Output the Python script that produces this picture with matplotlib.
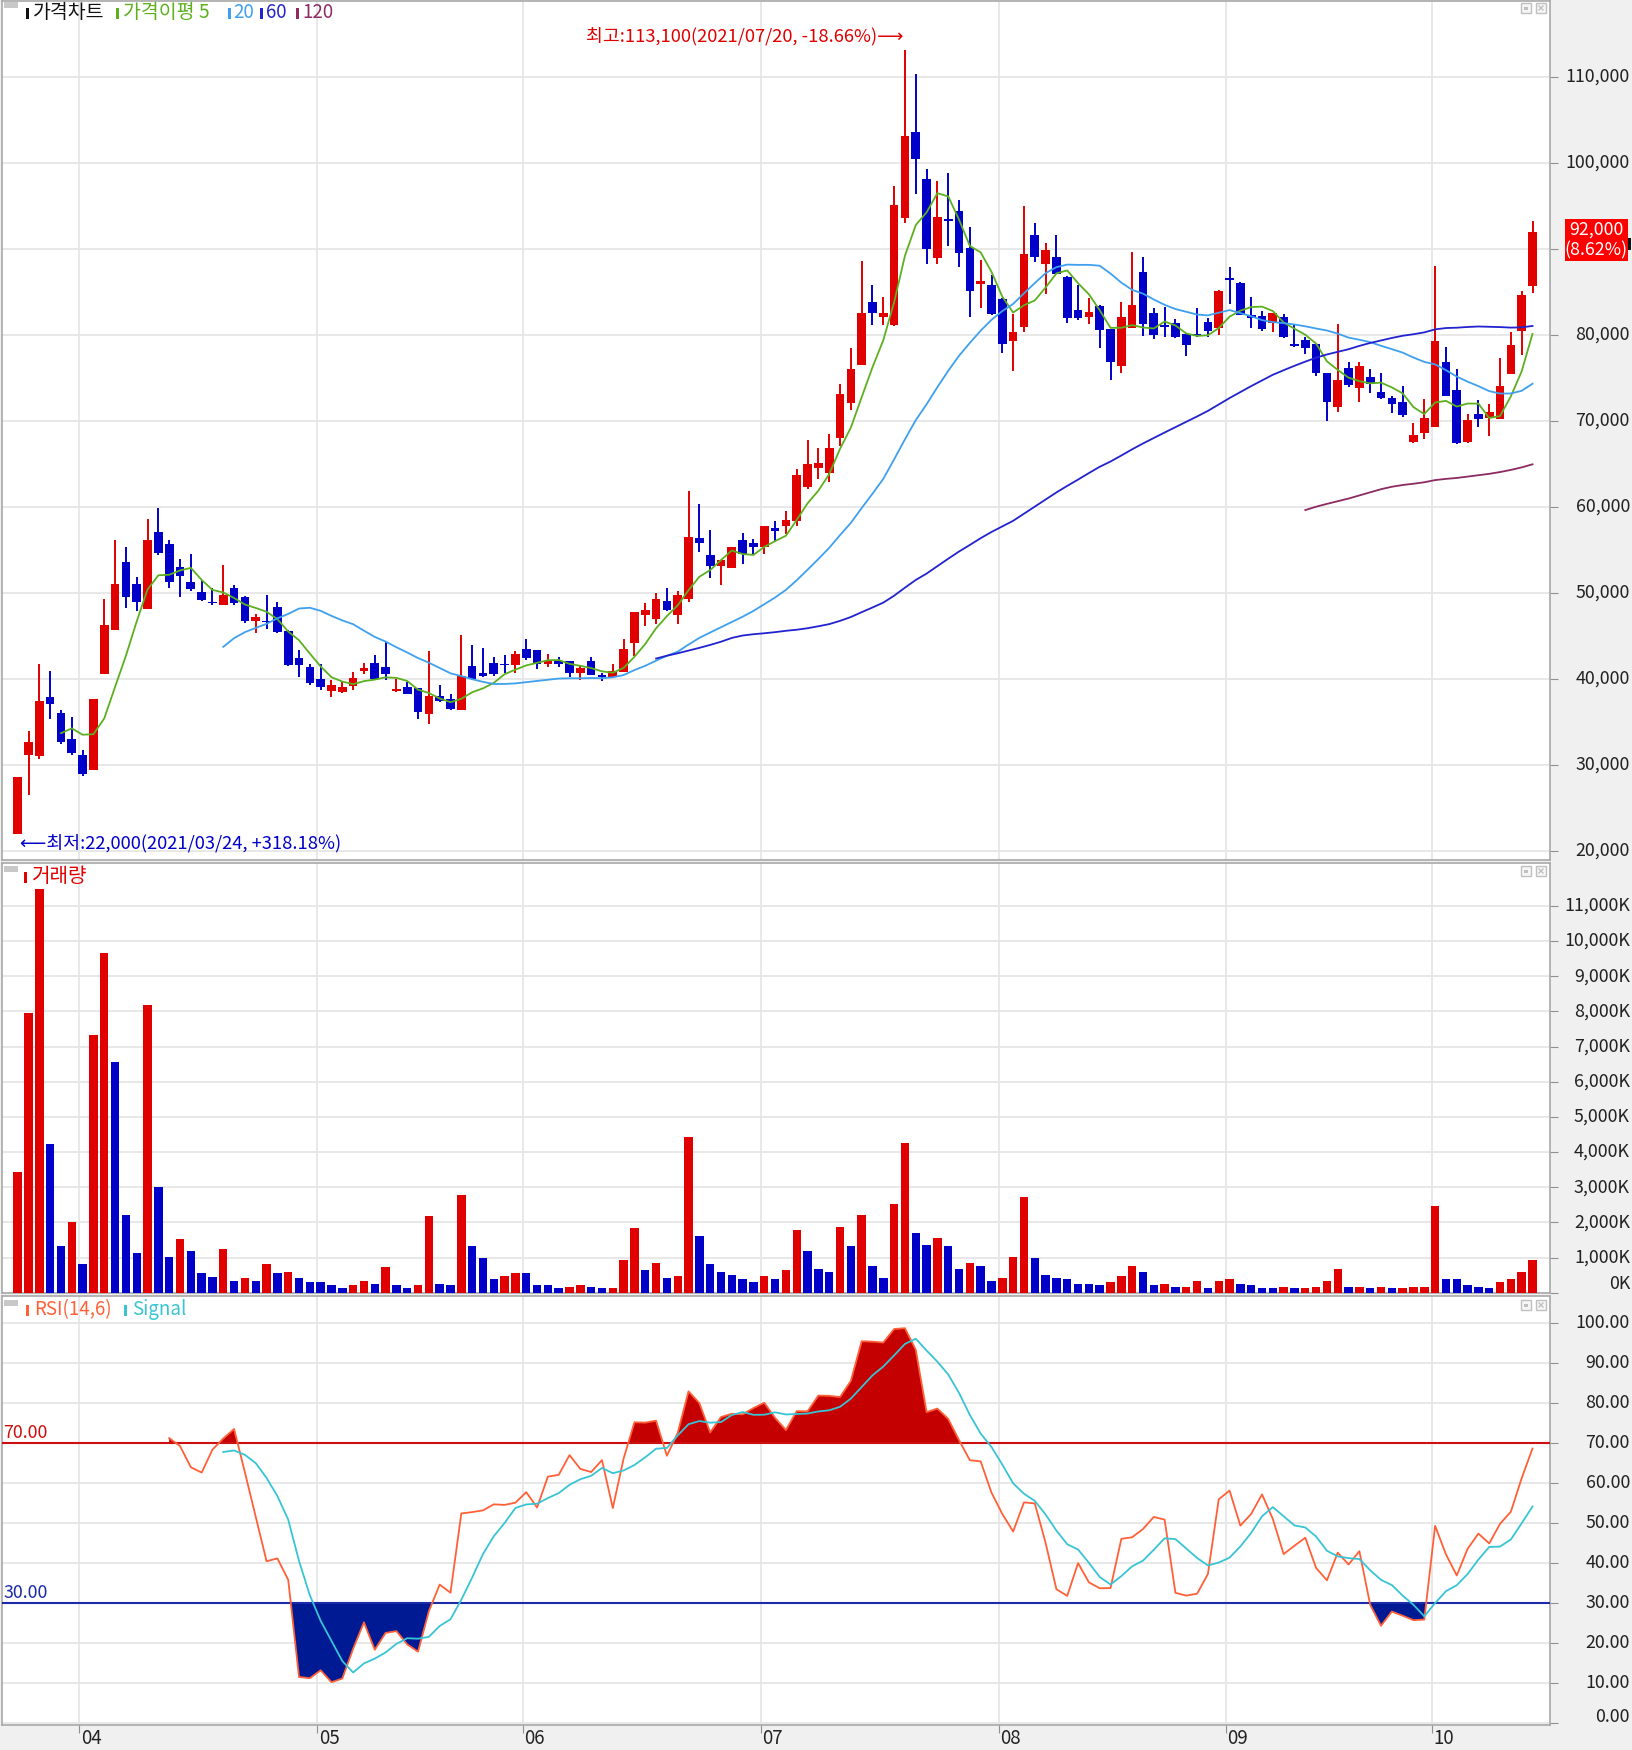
import numpy as np
import pandas as pd
import matplotlib
matplotlib.use('Agg')
import matplotlib.pyplot as plt
from matplotlib.patches import Rectangle
from matplotlib.transforms import blended_transform_factory as blend

plt.rcParams['font.family'] = ['Noto Sans CJK KR', 'DejaVu Sans']
NUM_FONT = ['Liberation Sans Narrow', 'Noto Sans CJK KR', 'DejaVu Sans']

# ---------------- data ----------------
holidays = ['2021-05-05', '2021-05-19', '2021-08-16', '2021-09-20', '2021-09-21',
            '2021-09-22', '2021-10-04', '2021-10-11']
dates = pd.bdate_range('2021-03-24', '2021-10-18', freq='C', holidays=holidays)

opens = [22000, 31200, 31000, 37900, 36000, 33000, 31200, 29400, 40600, 45700,
         53600, 51000, 48100, 57100, 55700, 53000, 51300, 50100, 48950, 48600,
         50600, 49500, 46750, 46800, 48400, 45600, 42400, 41400, 40000, 38600,
         38450, 39150, 40900, 41900, 41350, 38650, 39050, 38900, 35950, 38000,
         37700, 36350, 41500, 40650, 41850, 41750, 41600, 43450, 43350, 41800,
         42050, 42100, 40700, 42150, 40500, 40200, 40850, 44150, 47450, 46950,
         49100, 47450, 49350, 56400, 54450, 53150, 52850, 56200, 55800, 55300,
         57500, 57750, 58400, 62350, 64550, 64000, 68050, 72150, 76550, 83850,
         82050, 81150, 93600, 103650, 98100, 89000, 93500, 94450, 90150, 85950,
         85800, 84200, 79350, 80900, 91650, 88250, 89050, 86800, 82950, 82150,
         83400, 80700, 76450, 80800, 87300, 82550, 81200, 81350, 80100, 80100,
         81550, 80800, 86600, 86100, 82350, 82250, 81450, 82050, 78900, 79400,
         78900, 75550, 71600, 76150, 73800, 75150, 73400, 72650, 72250, 67600,
         68650, 69350, 76900, 73600, 67550, 70800, 70300, 70250, 75450, 80450,
         85700]
highs = [28600, 33900, 41800, 40900, 36400, 35600, 31800, 37700, 49300, 56200,
         55300, 51900, 58600, 59900, 56200, 54000, 54500, 51500, 50600, 53300,
         50900, 49650, 47500, 49800, 48900, 45700, 43400, 41700, 41750, 39900,
         39750, 40800, 41900, 42800, 44300, 40000, 39650, 38900, 43300, 39250,
         38300, 45100, 43900, 43650, 42600, 42800, 43300, 44700, 43400, 42850,
         42500, 42150, 41550, 42500, 40700, 41800, 44700, 47750, 48800, 50000,
         50550, 50250, 61850, 60300, 57300, 53850, 55400, 56950, 56250, 57800,
         58400, 59550, 64400, 67750, 66850, 68450, 74300, 78450, 88550, 85800,
         84450, 97350, 113100, 110300, 99350, 97950, 98800, 95700, 92550, 88750,
         86950, 84250, 82450, 95050, 93000, 90650, 91650, 86850, 85850, 84300,
         83450, 80750, 83800, 89600, 89050, 83150, 83300, 81850, 80150, 83150,
         81950, 85250, 87850, 86150, 84400, 82750, 82600, 82450, 81300, 79750,
         78950, 75600, 81300, 76900, 76900, 76000, 75550, 72850, 74100, 69800,
         72550, 88050, 78650, 76000, 70800, 72450, 72000, 77300, 80400, 85150,
         93300]
lows = [22000, 26500, 30700, 35400, 32400, 31200, 28700, 29400, 40600, 45700,
        48300, 47900, 48100, 54400, 50600, 49500, 50200, 49100, 48550, 48600,
        48600, 46500, 45300, 45800, 45400, 41500, 40200, 39300, 38750, 37900,
        38400, 38750, 40550, 39900, 39850, 38450, 38250, 35300, 34750, 37300,
        36350, 36350, 39900, 40200, 40350, 40700, 40700, 42250, 41150, 41450,
        41350, 40200, 39900, 40450, 39750, 40200, 40850, 42700, 46200, 46400,
        47950, 46400, 48950, 54800, 51750, 50900, 52850, 53350, 54500, 54500,
        56050, 56850, 57750, 62050, 63300, 62850, 67100, 71300, 76550, 81150,
        81150, 81050, 93000, 96400, 88200, 88200, 90300, 87900, 82050, 83100,
        82350, 77900, 75850, 80300, 88450, 84750, 87100, 81400, 81800, 81300,
        78500, 74800, 75550, 80800, 79850, 79550, 79750, 79700, 77600, 79750,
        79750, 80000, 83550, 82300, 80800, 80450, 80300, 79700, 78650, 77800,
        75250, 70050, 71050, 74000, 72250, 73300, 72550, 70900, 70500, 67400,
        67900, 69350, 72900, 67350, 67400, 69350, 68250, 70250, 75450, 77700,
        84850]
closes = [28600, 32700, 37400, 37100, 32700, 31400, 29000, 37700, 46300, 51000,
          49500, 49000, 56200, 54600, 51300, 52000, 50500, 49200, 48800, 49800,
          48800, 46700, 47200, 46600, 45500, 41600, 41600, 39500, 39100, 39250,
          39050, 40100, 41250, 40000, 40550, 38750, 38300, 36200, 38050, 37400,
          36550, 40300, 40000, 40300, 40600, 41600, 42950, 42450, 41800, 42100,
          41750, 40700, 41300, 40500, 40200, 40950, 43500, 47750, 48000, 49300,
          48000, 49800, 56550, 55800, 53150, 53850, 55350, 54500, 55300, 57800,
          57200, 58500, 63700, 64950, 65150, 66850, 73150, 76050, 82600, 82600,
          82600, 95150, 103100, 100450, 90000, 93750, 93300, 89550, 85150, 86300,
          82400, 78900, 80300, 89400, 89100, 89900, 87150, 82000, 81950, 82700,
          80600, 76900, 82050, 83500, 81300, 80050, 80950, 79750, 78850, 79850,
          80450, 85100, 86400, 82350, 81950, 80700, 82550, 79750, 78700, 78450,
          75550, 72250, 74750, 74200, 76400, 74300, 72650, 72000, 70700, 68400,
          70300, 79350, 72950, 67400, 70150, 70250, 71000, 74100, 78850, 84700,
          92000]
vol_k = [3446, 7967, 11474, 4223, 1322, 2005, 810, 7332, 9673, 6564,
         2213, 1142, 8185, 3019, 1019, 1531, 1190, 555, 460, 1237,
         336, 431, 330, 810, 555, 592, 431, 299, 295, 213,
         128, 213, 336, 251, 725, 213, 128, 213, 2175, 251,
         213, 2773, 1322, 981, 384, 469, 555, 550, 213, 210,
         128, 166, 213, 166, 128, 140, 934, 1834, 640, 848,
         422, 469, 4431, 1616, 810, 592, 507, 384, 299, 469,
         384, 640, 1787, 1190, 678, 592, 1872, 1322, 2213, 763,
         422, 2517, 4261, 1701, 1360, 1569, 1322, 678, 848, 763,
         336, 422, 1019, 2725, 981, 507, 422, 384, 251, 245,
         213, 299, 469, 763, 592, 213, 251, 166, 175, 336,
         128, 336, 384, 251, 213, 128, 125, 166, 128, 135,
         166, 336, 678, 166, 170, 128, 166, 128, 135, 166,
         170, 2469, 384, 380, 213, 166, 128, 299, 384, 592,
         934]

price_ticks = list(range(20000, 110001, 10000))
vol_ticks = list(range(0, 11001, 1000))
rsi_ticks = list(range(0, 101, 10))
ma_windows = [5, 20, 60, 120]

# ---------------- derived ----------------
O = np.array(opens, float); Hh = np.array(highs, float)
L = np.array(lows, float); C = np.array(closes, float)
V = np.array(vol_k, float)
n = len(C)
x = np.arange(n)
cs = pd.Series(C)
mas = {w: cs.rolling(w).mean() for w in ma_windows}
d = cs.diff()
gain = d.clip(lower=0).rolling(14).mean()
loss = (-d.clip(upper=0)).rolling(14).mean()
rsi = 100 * gain / (gain + loss)
signal = rsi.rolling(6).mean()

RED = '#e00000'
BLUE = '#0000c8'
MA_COL = {5: '#5cb01e', 20: '#3ea0ee', 60: '#2222d0', 120: '#8c2a62'}
GRID = '#e6e6e6'
SPINE = '#a8a8a8'
NUM_FS = 12.8

W, H = 1632, 1750
fig = plt.figure(figsize=(W / 100, H / 100), dpi=100, facecolor='#f0f0f0')


def frac(l, t, r, b):
    return [l / W, 1 - b / H, (r - l) / W, (b - t) / H]


ax1 = fig.add_axes(frac(2, 1, 1550, 860))
ax2 = fig.add_axes(frac(2, 863, 1550, 1293))
ax3 = fig.add_axes(frac(2, 1296, 1550, 1725))
x0 = (2 - 17.7) / 10.82
x1 = (1550 - 17.7) / 10.82

month_starts = [i for i in range(1, n) if dates[i].month != dates[i - 1].month]
month_pos = [m - 0.3 for m in month_starts]

for ax in (ax1, ax2, ax3):
    ax.set_facecolor('white')
    ax.set_xlim(x0, x1)
    for s in ax.spines.values():
        s.set_color(SPINE)
        s.set_linewidth(1.2)
    ax.set_xticks(month_pos)
    ax.tick_params(axis='x', bottom=False, labelbottom=False)
    ax.yaxis.tick_right()
    ax.tick_params(axis='y', right=True, left=False, length=6, color='#909090',
                   labelright=False, labelleft=False)
    ax.grid(True, color=GRID, lw=1.3)
    ax.set_axisbelow(True)

lab_font = dict(fontsize=NUM_FS, color='#222222', ha='right', va='center', clip_on=False,
                family=NUM_FONT)
xr = (1630 - 2) / 1548

# ---- price panel ----
ax1.set_ylim(80000 - (860 - 335) * 116.28, 80000 + (335 - 1) * 116.28)
ax1.set_yticks(price_ticks)
up = C >= O
cols = np.where(up, RED, BLUE)
ax1.vlines(x, L, Hh, colors=cols, lw=1.4, zorder=3)
body_b = np.minimum(O, C)
body_h = np.maximum(np.abs(C - O), 180)
ax1.bar(x, body_h, bottom=body_b, width=0.8, color=cols, lw=0, zorder=4)
for w in ma_windows:
    ax1.plot(x, mas[w], color=MA_COL[w], lw=1.3, zorder=5)
tr1 = blend(ax1.transAxes, ax1.transData)
last = C[-1]
for v in price_ticks:
    if abs(v - last) < 3500:   # hidden behind the current-price box
        continue
    ax1.text(xr, v, f'{v:,}', transform=tr1, **lab_font)

imax = int(np.argmax(Hh)); imin = int(np.argmin(L))
pmax = (last / Hh[imax] - 1) * 100
pmin = (last / L[imin] - 1) * 100
ax1.text(imax - 0.1, 114770,
         f'최고:{int(Hh[imax]):,}({dates[imax]:%Y/%m/%d}, {pmax:+.2f}%)⟶',
         color=RED, fontsize=13.2, ha='right', va='center', zorder=6)
ax1.text(0.2, 20950,
         f'⟵최저:{int(L[imin]):,}({dates[imin]:%Y/%m/%d}, {pmin:+.2f}%)',
         color=BLUE, fontsize=13.2, ha='left', va='center', zorder=6)

# ---- volume panel ----
ax2.set_ylim(-6, (1292.8 - 863) * 28.43)
ax2.set_yticks(vol_ticks)
vcol = [RED] + [RED if V[i] >= V[i - 1] else BLUE for i in range(1, n)]
ax2.bar(x, V, width=0.78, color=vcol, lw=0, zorder=3)
tr2 = blend(ax2.transAxes, ax2.transData)
for v in vol_ticks:
    yy = v if v > 0 else 250
    ax2.text(xr, yy, f'{v:,}K', transform=tr2, **lab_font)

# ---- RSI panel ----
ax3.set_ylim((1723.3 - 1725) / 4, (1723.3 - 1296) / 4)
ax3.set_yticks(rsi_ticks)
ax3.set_xticks(month_pos)
ax3.tick_params(axis='x', bottom=True, length=6, color='#909090', labelbottom=False)
r = rsi.values
ax3.fill_between(x, r, 70, where=r >= 70, interpolate=True, color='#c40000', lw=0, zorder=3)
ax3.fill_between(x, r, 30, where=r <= 30, interpolate=True, color='#001a94', lw=0, zorder=3)
ax3.axhline(70, color='#cc1010', lw=1.5, zorder=4)
ax3.axhline(30, color='#1a2aa8', lw=1.5, zorder=4)
ax3.plot(x, r, color='#ff6038', lw=1.3, zorder=5)
ax3.plot(x, signal, color='#38c4d4', lw=1.3, zorder=5)
tr3 = blend(ax3.transAxes, ax3.transData)
for v in rsi_ticks:
    yy = v if v > 0 else 1.7
    ax3.text(xr, yy, f'{v:.2f}', transform=tr3, **lab_font)
ax3.text(0.001, 72.6, '70.00', transform=tr3, color='#cc1010', fontsize=NUM_FS,
         ha='left', va='center', family=NUM_FONT)
ax3.text(0.001, 32.6, '30.00', transform=tr3, color='#1a2aa8', fontsize=NUM_FS,
         ha='left', va='center', family=NUM_FONT)
trb = blend(ax3.transData, ax3.transAxes)
for m, p in zip(month_starts, month_pos):
    ax3.text(p + 0.12, -0.031, f'{dates[m].month:02d}', transform=trb, fontsize=13.5,
             color='#222222', ha='left', va='center', clip_on=False, family=NUM_FONT)

# ---------------- overlay (pixel coordinates) ----------------
ov = fig.add_axes([0, 0, 1, 1], zorder=10)
ov.set_xlim(0, W); ov.set_ylim(H, 0); ov.axis('off'); ov.patch.set_alpha(0)

for t in (2, 866, 1300):
    ov.add_patch(Rectangle((4, t), 14, 6, color='#c8c8c8', lw=0))
for t in (3, 866, 1300):
    for bx in (1521, 1536):
        ov.add_patch(Rectangle((bx, t), 10, 10, fc='#f6f6f6', ec='#c0c0c0', lw=1))
    ov.add_patch(Rectangle((1524, t + 4), 4, 3, fc='#c0c0c0', lw=0))
    ov.plot([1539, 1543], [t + 3, t + 7], color='#c0c0c0', lw=1)
    ov.plot([1539, 1543], [t + 7, t + 3], color='#c0c0c0', lw=1)


def legend_item(xb, y, color, label, xt, fs=13.5):
    ov.add_patch(Rectangle((xb, y - 5), 3, 11, color=color, lw=0))
    ov.text(xt, y, label, color=color, fontsize=fs, ha='left', va='center')


legend_item(26, 13, '#111111', '가격차트', 33, fs=14)
legend_item(116, 13, MA_COL[5], '가격이평 5', 123, fs=14)
legend_item(228, 13, MA_COL[20], '20', 233)
legend_item(260, 13, MA_COL[60], '60', 266)
legend_item(296, 13, MA_COL[120], '120', 302)
legend_item(24, 877, RED, '거래량', 32, fs=14.5)
legend_item(26, 1310, '#ff6038', 'RSI(14,6)', 34, fs=13.5)
legend_item(124, 1310, '#38c4d4', 'Signal', 132, fs=13.5)

# current price box
pct_last = (C[-1] / C[-2] - 1) * 100
ov.add_patch(Rectangle((1565, 219), 63, 42, color='#ff0000', lw=0))
ov.add_patch(Rectangle((1628, 238), 3, 12, color='#111111', lw=0))
ov.text(1596, 229.5, f'{int(C[-1]):,}', color='white', fontsize=12.8, ha='center',
        va='center', family=NUM_FONT)
ov.text(1596, 250.5, f'({pct_last:.2f}%)', color='white', fontsize=12.8, ha='center',
        va='center', family=NUM_FONT)

fig.savefig('out.png', dpi=100, facecolor=fig.get_facecolor())
